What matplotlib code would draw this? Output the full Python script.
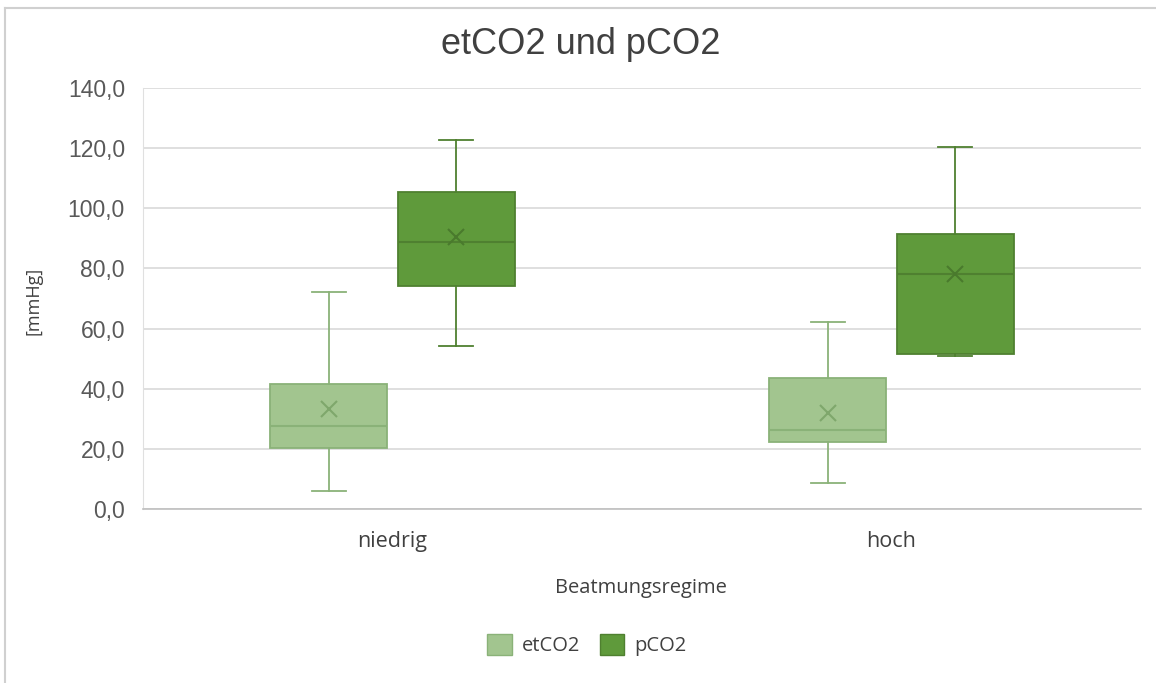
import matplotlib
matplotlib.use("Agg")
import matplotlib.pyplot as plt
from matplotlib.patches import Patch
from matplotlib.lines import Line2D

categories = ["niedrig", "hoch"]
series = ["etCO2", "pCO2"]
# [niedrig, hoch]
et_whislo = [6.1, 8.8]
et_q1 = [20.2, 22.4]
et_med = [27.6, 26.3]
et_q3 = [41.5, 43.5]
et_whishi = [72.1, 62.1]
et_mean = [33.2, 31.8]

p_whislo = [54.2, 50.9]
p_q1 = [74.2, 51.6]
p_med = [88.9, 78.2]
p_q3 = [105.5, 91.5]
p_whishi = [122.8, 120.4]
p_mean = [90.6, 78.2]

yticks = [0, 20, 40, 60, 80, 100, 120, 140]

fill_colors = ["#A2C58F", "#5F9A3B"]
edge_colors = ["#8AB278", "#4F8030"]
mean_colors = ["#7FA76C", "#4A7A2D"]

fig = plt.figure(figsize=(11.56, 6.83), dpi=100)
ax = fig.add_axes([143/1156, 1-509/683, (1141-143)/1156, (509-88)/683])

offsets = [-0.128, 0.128]
width = 0.235
data = [
    (et_whislo, et_q1, et_med, et_q3, et_whishi, et_mean),
    (p_whislo, p_q1, p_med, p_q3, p_whishi, p_mean),
]
for s, (wl, q1, md, q3, wh, mn) in enumerate(data):
    stats = []
    for i in range(len(categories)):
        stats.append(dict(whislo=wl[i], q1=q1[i], med=md[i], q3=q3[i],
                          whishi=wh[i], mean=mn[i], fliers=[]))
    pos = [i + offsets[s] for i in range(len(categories))]
    ec = edge_colors[s]
    ax.bxp(stats, positions=pos, widths=width, patch_artist=True,
           showmeans=True, showfliers=False,
           boxprops=dict(facecolor=fill_colors[s], edgecolor=ec, linewidth=1.3),
           medianprops=dict(color=ec, linewidth=1.5),
           whiskerprops=dict(color=ec, linewidth=1.3),
           capprops=dict(color=ec, linewidth=1.3),
           capwidths=0.068,
           meanprops=dict(marker="x", markeredgecolor=mean_colors[s],
                          markersize=12, markeredgewidth=1.5),
           zorder=3)

ax.set_xlim(-0.5, 1.5)
ax.set_ylim(0, 140)
ax.set_yticks(yticks)
ax.set_yticklabels([f"{v:.1f}".replace(".", ",") for v in yticks],
                   fontfamily="Liberation Sans", fontsize=16.5, color="#595959")
ax.set_xticks(range(len(categories)))
ax.set_xticklabels(categories, fontfamily="Open Sans", fontsize=15.5, color="#404040")
ax.tick_params(axis="both", length=0)
ax.tick_params(axis="y", pad=13)
ax.tick_params(axis="x", pad=16)
ax.grid(axis="y", color="#D9D9D9", linewidth=1.2, zorder=0)
ax.set_axisbelow(True)
for sp in ["top", "right"]:
    ax.spines[sp].set_visible(False)
ax.spines["left"].set_color("#E0E0E0")
ax.spines["bottom"].set_color("#BFBFBF")
ax.spines["bottom"].set_linewidth(1.2)

fig.text(581/1156, 1-45/683, "etCO2 und pCO2", ha="center", va="center",
         fontfamily="Liberation Sans", fontsize=26, color="#404040")
fig.text(641/1156, 1-588/683, "Beatmungsregime", ha="center", va="center",
         fontfamily="Open Sans", fontsize=14.5, color="#404040")
fig.text(34/1156, 1-301/683, "[mmHg]", ha="center", va="center", rotation=90,
         fontfamily="Open Sans", fontsize=13, color="#404040")

handles = [Patch(facecolor=fill_colors[i], edgecolor=edge_colors[i], label=series[i])
           for i in range(2)]
leg = fig.legend(handles=handles, loc="center", bbox_to_anchor=(587/1156, 1-645/683),
                 ncol=2, frameon=False, handlelength=1.2, handleheight=1.2,
                 columnspacing=1.0, handletextpad=0.5,
                 prop=dict(family="Open Sans", size=14.5))
for t in leg.get_texts():
    t.set_color("#404040")

# chart frame (top and left edges visible)
fig.add_artist(Line2D([5/1156, 5/1156], [0, 1-8/683], transform=fig.transFigure,
                      color="#D0D0D0", linewidth=1.5))
fig.add_artist(Line2D([5/1156, 1], [1-8/683, 1-8/683], transform=fig.transFigure,
                      color="#D0D0D0", linewidth=1.5))

fig.savefig("out.png", dpi=100, facecolor="white")
